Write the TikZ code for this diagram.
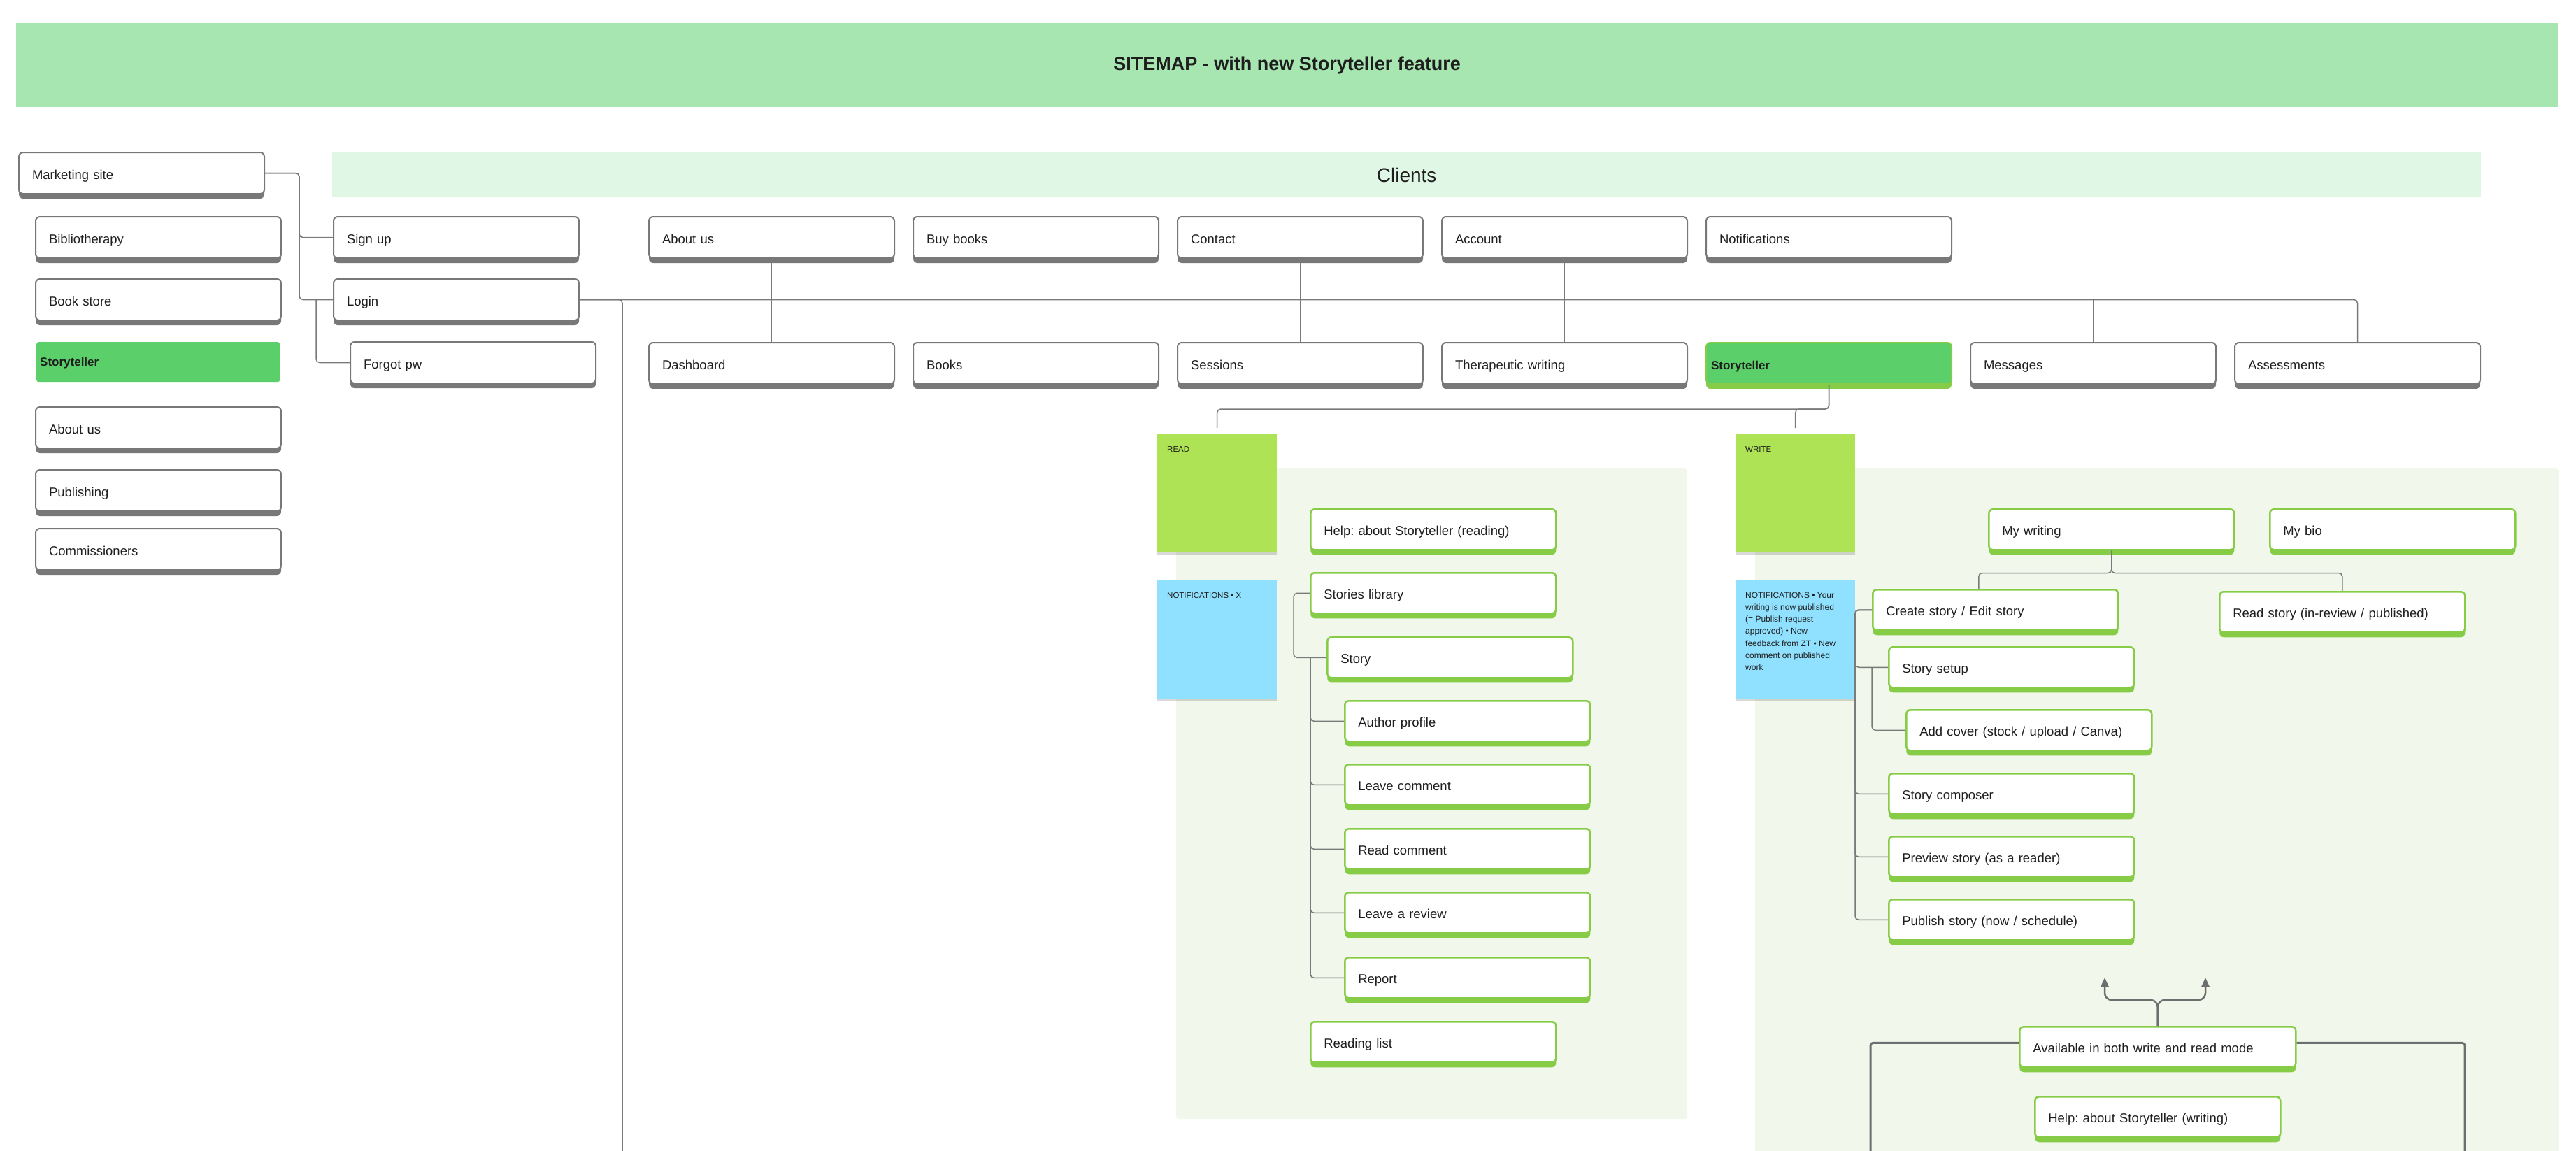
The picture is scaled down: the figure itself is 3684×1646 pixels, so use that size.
\documentclass[tikz,border=0pt]{standalone}
\usepackage{fontspec}
\setmainfont{Liberation Sans}
\usetikzlibrary{shadows,arrows.meta}
\definecolor{titleg}{HTML}{A8E6B1}
\definecolor{clientsg}{HTML}{E1F7E6}
\definecolor{panelg}{HTML}{F1F7EA}
\definecolor{boxgray}{HTML}{787878}
\definecolor{conngray}{HTML}{7A7A7A}
\definecolor{limeg}{HTML}{86CC46}
\definecolor{stgreen}{HTML}{5BD06A}
\definecolor{stickyg}{HTML}{ADE354}
\definecolor{stickyb}{HTML}{90E1FF}
\definecolor{txtc}{HTML}{1E1E1E}
\newcommand\mybx{\fontsize{18.5pt}{22pt}\selectfont}
\newcommand\myst{\fontsize{17pt}{20pt}\selectfont\bfseries}
\newcommand\myttl{\fontsize{27pt}{32pt}\selectfont\bfseries}
\newcommand\mycl{\fontsize{28pt}{32pt}\selectfont}
\newcommand\mysk{\fontsize{11.5pt}{14pt}\selectfont}
\newcommand\mynf{\fontsize{12pt}{17.2pt}\selectfont}
\frenchspacing
\begin{document}
\begin{tikzpicture}[x=1pt,y=-1pt,
  base/.style={anchor=north west, rounded corners=6pt, inner ysep=0pt, inner xsep=19pt, align=left, text width=313pt, minimum height=59pt, text height=17.4pt, text depth=0pt, font=\mybx, text=txtc},
  gbox/.style={base, draw=boxgray, line width=2pt, fill=white, drop shadow={shadow xshift=0pt, shadow yshift=-7pt, opacity=1, fill=boxgray}},
  grbox/.style={base, minimum height=58pt, draw=limeg, line width=2.5pt, fill=white, drop shadow={shadow xshift=0pt, shadow yshift=-7pt, opacity=1, fill=limeg}},
  stbox/.style={base, text width=337pt, inner xsep=7pt, fill=stgreen, draw=limeg, line width=2pt, font=\myst, text height=17.2pt, drop shadow={shadow xshift=0pt, shadow yshift=-7pt, opacity=1, fill=limeg}},
  stl/.style={anchor=north west, inner ysep=0pt, inner xsep=5pt, text width=338pt, align=left, minimum height=57pt, text height=12.2pt, text depth=0pt, fill=stgreen, rounded corners=3pt, font=\myst, text=txtc},
  panel/.style={anchor=north west, inner sep=0pt, fill=panelg, rounded corners=4pt},
  sticky/.style={anchor=north west, inner sep=0pt, inner xsep=14pt, fill=#1, text=txtc, drop shadow={shadow xshift=0pt, shadow yshift=-3pt, opacity=0.15, fill=black}},
  conn/.style={draw=conngray, line width=1.5pt, rounded corners=5pt},
  arrowline/.style={draw=conngray!90!black, line width=2.5pt, rounded corners=10pt, -{Triangle[length=13pt,width=11pt]}},
  bracket/.style={draw=conngray!90!black, line width=3pt, rounded corners=4pt}
]
\useasboundingbox (0,0) rectangle (3684,1646);

% banners
\node[anchor=north west, inner sep=0pt, fill=titleg, minimum width=3635pt, minimum height=120pt, font=\myttl, text=txtc] (title) at (23,33) {SITEMAP - with new Storyteller feature};
\node[anchor=north west, inner sep=0pt, fill=clientsg, minimum width=3073pt, minimum height=64pt, font=\mycl, text=txtc] (clients) at (475,218) {Clients};

% panels
\node[panel, minimum width=731pt, minimum height=931pt] (rpanel) at (1682,669) {};
\node[panel, minimum width=1149pt, minimum height=1000pt] (wpanel) at (2510,669) {};

% left column
\node[gbox] (mkt) at (26,217) {Marketing site};
\node[gbox] (biblio) at (50,309) {Bibliotherapy};
\node[gbox] (bstore) at (50,398) {Book store};
\node[stl] (stleft) at (52,489) {Storyteller};
\node[gbox] (aboutl) at (50,581) {About us};
\node[gbox] (publ) at (50,671) {Publishing};
\node[gbox] (comm) at (50,755) {Commissioners};
\node[gbox] (signup) at (476,309) {Sign up};
\node[gbox] (login) at (476,398) {Login};
\node[gbox] (forgot) at (500,488) {Forgot pw};

% client rows
\node[gbox] (aboutus) at (927,309) {About us};
\node[gbox] (buy) at (1305,309) {Buy books};
\node[gbox] (contact) at (1683,309) {Contact};
\node[gbox] (account) at (2061,309) {Account};
\node[gbox] (notif) at (2439,309) {Notifications};
\node[gbox] (dash) at (927,489) {Dashboard};
\node[gbox] (books) at (1305,489) {Books};
\node[gbox] (sessions) at (1683,489) {Sessions};
\node[gbox] (therap) at (2061,489) {Therapeutic writing};
\node[stbox] (storyB) at (2439,489) {Storyteller};
\node[gbox] (messages) at (2817,489) {Messages};
\node[gbox] (assess) at (3195,489) {Assessments};

% stickies
\node[sticky=stickyg] (read) at (1655,620) {\parbox[c][170pt][t]{143pt}{\mysk\rule{0pt}{26pt}READ}};
\node[sticky=stickyb] (rnotif) at (1655,829) {\parbox[c][170pt][t]{143pt}{\mysk\rule{0pt}{26pt}NOTIFICATIONS • X}};
\node[sticky=stickyg] (write) at (2482,620) {\parbox[c][170pt][t]{143pt}{\mysk\rule{0pt}{26pt}WRITE}};
\node[sticky=stickyb] (wnotif) at (2482,829) {\parbox[c][170pt][t]{143pt}{\raggedright\mynf\rule{0pt}{26pt}NOTIFICATIONS • Your\\ writing is now published\\ (= Publish request\\ approved) • New\\ feedback from ZT • New\\ comment on published\\ work}};

% read panel
\node[grbox] (helpr) at (1873,727) {Help: about Storyteller (reading)};
\node[grbox] (stories) at (1873,818) {Stories library};
\node[grbox] (story) at (1897,910) {Story};
\node[grbox] (author) at (1922,1001) {Author profile};
\node[grbox] (leavec) at (1922,1092) {Leave comment};
\node[grbox] (readc) at (1922,1184) {Read comment};
\node[grbox] (review) at (1922,1275) {Leave a review};
\node[grbox] (report) at (1922,1368) {Report};
\node[grbox] (readlist) at (1873,1460) {Reading list};

% write panel
\node[grbox] (mywriting) at (2843,727) {My writing};
\node[grbox] (mybio) at (3245,727) {My bio};
\node[grbox] (create) at (2677,842) {Create story / Edit story};
\node[grbox] (readstory) at (3173,845) {Read story (in-review / published)};
\node[grbox] (setup) at (2700,924) {Story setup};
\node[grbox] (cover) at (2725,1014) {Add cover (stock / upload / Canva)};
\node[grbox] (composer) at (2700,1105) {Story composer};
\node[grbox] (preview) at (2700,1195) {Preview story (as a reader)};
\node[grbox] (publish) at (2700,1285) {Publish story (now / schedule)};
\node[grbox, text width=357pt] (avail) at (2887,1467) {Available in both write and read mode};
\node[grbox] (helpw) at (2909,1567) {Help: about Storyteller (writing)};

% free ends
\coordinate (ldown) at (890,1646);
\coordinate (arrL) at (3010,1398);
\coordinate (arrR) at (3154,1398);
\coordinate (brL) at (2675,1650);
\coordinate (brR) at (3525,1650);

% left connectors
\draw[conn] (mkt.east) -- ++(49,0) |- (signup.west);
\draw[conn] (mkt.east) -- ++(49,0) |- (login.west);
\draw[conn] ([xshift=-24pt]login.west) |- (forgot.west);
\draw[conn] (login.east) -| (ldown);
\draw[conn] (login.east) -| (assess.north);
\draw[conn] (login.east -| messages.north) -- (messages.north);
\draw[conn] (aboutus.south) -- (dash.north);
\draw[conn] (buy.south) -- (books.north);
\draw[conn] (contact.south) -- (sessions.north);
\draw[conn] (account.south) -- (therap.north);
\draw[conn] (notif.south) -- (storyB.north);

% storyteller split
\draw[conn] (storyB.south) -- ++(0,35) -| ([yshift=8pt]read.north);
\draw[conn] (storyB.south) -- ++(0,35) -| ([yshift=8pt]write.north);

% read panel connectors
\draw[conn] (stories.west) -- ++(-23,0) |- (story.west);
\draw[conn] ([xshift=-23pt]story.west) |- (author.west);
\draw[conn] ([xshift=-23pt]story.west) |- (leavec.west);
\draw[conn] ([xshift=-23pt]story.west) |- (readc.west);
\draw[conn] ([xshift=-23pt]story.west) |- (review.west);
\draw[conn] ([xshift=-23pt]story.west) |- (report.west);

% write panel connectors
\draw[conn] (mywriting.south) -- ++(0,32) -| ([xshift=-24pt]create.north);
\draw[conn] (mywriting.south) -- ++(0,32) -| (readstory.north);
\draw[conn] (create.west) -- ++(-24,0) |- (setup.west);
\draw[conn] (create.west) -- ++(-24,0) |- (composer.west);
\draw[conn] (create.west) -- ++(-24,0) |- (preview.west);
\draw[conn] (create.west) -- ++(-24,0) |- (publish.west);
\draw[conn] ([xshift=-23pt]setup.west) |- (cover.west);

% available
\draw[arrowline] (avail.north) -- ++(0,-37) -| (arrL);
\draw[arrowline] (avail.north) -- ++(0,-37) -| (arrR);
\draw[bracket] ([yshift=6pt]avail.west) -| (brL);
\draw[bracket] ([yshift=6pt]avail.east) -| (brR);
\end{tikzpicture}
\end{document}
